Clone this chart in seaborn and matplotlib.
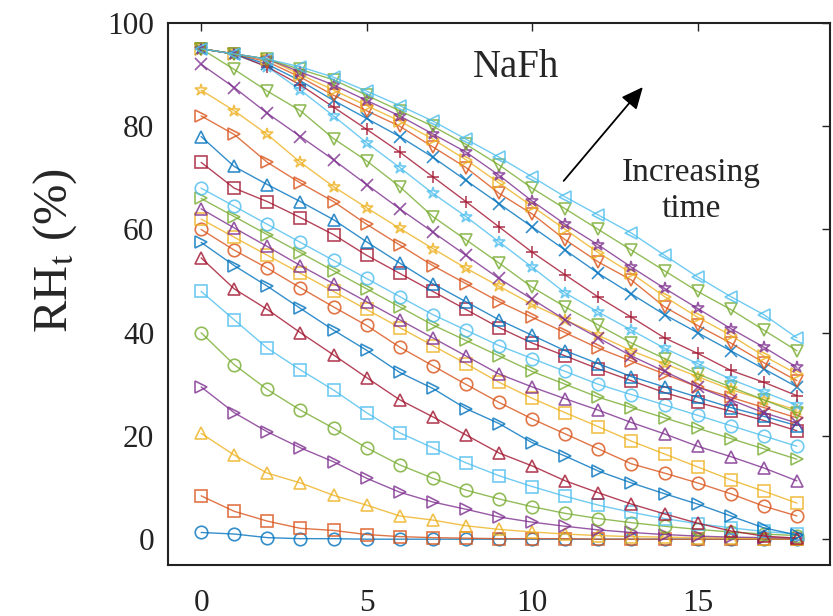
import numpy as np
import pandas as pd
import seaborn as sns
import matplotlib.pyplot as plt

# time index along the x axis
steps = list(range(19))

# RH_t (%) curves, earliest time first
rh_01 = [1.3, 1.0, 0.3, 0.1, 0.1, 0, 0, 0, 0, 0, 0, 0, 0, 0, 0, 0, 0, 0, 0]
rh_02 = [8.4, 5.4, 3.5, 2.1, 1.7, 0.9, 0.5, 0.3, 0.2, 0.1, 0.1, 0.1, 0, 0, 0, 0, 0, 0, 0]
rh_03 = [20.5, 16.3, 12.8, 10.9, 8.5, 6.6, 4.5, 3.7, 2.6, 1.9, 1.4, 1.0, 0.7, 0.5, 0.4, 0.3, 0.2, 0.1, 0.1]
rh_04 = [29.5, 24.5, 20.8, 17.7, 15.0, 11.8, 9.1, 7.2, 5.8, 4.3, 3.3, 2.5, 1.8, 1.3, 0.9, 0.6, 0.4, 0.3, 0.2]
rh_05 = [40.0, 33.8, 29.0, 25.0, 21.5, 17.7, 14.4, 11.8, 9.5, 7.8, 6.3, 5.0, 4.0, 3.2, 2.5, 1.9, 1.4, 1.0, 0.7]
rh_06 = [48.0, 42.5, 37.0, 32.8, 28.9, 24.5, 20.6, 17.7, 14.8, 12.3, 10.2, 8.3, 6.6, 5.2, 4.0, 3.0, 2.2, 1.5, 1.0]
rh_07 = [54.5, 48.5, 44.5, 40.0, 35.7, 31.3, 27.0, 23.7, 20.2, 16.7, 14.2, 11.3, 9.0, 6.8, 4.9, 3.1, 1.6, 0.6, 0.2]
rh_08 = [57.5, 53.0, 49.0, 44.7, 40.5, 36.6, 32.3, 29.2, 25.3, 22.4, 18.7, 16.1, 13.2, 10.9, 8.8, 6.8, 4.5, 2.2, 0.8]
rh_09 = [60.0, 56.0, 52.5, 48.7, 45.0, 41.4, 37.2, 33.6, 30.0, 26.5, 23.3, 20.4, 17.5, 14.6, 12.8, 10.9, 8.8, 6.4, 4.5]
rh_10 = [62.0, 58.5, 55.0, 51.5, 48.0, 44.5, 41.0, 37.5, 34.0, 30.4, 27.3, 24.5, 21.8, 19.0, 16.5, 14.0, 11.5, 9.3, 7.0]
rh_11 = [64.0, 60.3, 56.7, 53.0, 49.5, 46.0, 42.5, 39.0, 35.5, 32.0, 29.5, 27.2, 25.0, 22.6, 20.4, 18.0, 16.0, 13.8, 11.3]
rh_12 = [66.0, 62.5, 59.0, 55.5, 52.0, 48.5, 45.0, 41.5, 38.5, 35.5, 32.5, 30.0, 27.5, 25.5, 23.5, 21.5, 19.5, 17.5, 15.5]
rh_13 = [68.0, 64.5, 61.0, 57.5, 54.0, 50.5, 47.0, 43.5, 40.5, 37.5, 35.0, 32.5, 30.0, 28.0, 26.0, 24.0, 22.0, 20.0, 18.0]
rh_14 = [73.0, 68.0, 65.4, 62.3, 59.0, 55.0, 51.5, 48.0, 44.5, 41.0, 38.0, 35.5, 33.0, 30.7, 28.4, 26.5, 24.8, 23.0, 21.0]
rh_15 = [78.0, 72.2, 68.7, 65.4, 61.9, 57.6, 53.5, 49.5, 46.0, 42.5, 39.5, 36.5, 34.0, 31.5, 29.5, 27.5, 25.5, 23.8, 22.0]
rh_16 = [82.0, 78.4, 73.0, 69.0, 65.4, 61.0, 57.0, 53.0, 49.5, 46.0, 43.0, 40.0, 37.0, 34.5, 32.0, 29.5, 27.5, 25.5, 23.5]
rh_17 = [87.0, 83.0, 78.4, 73.0, 68.3, 64.2, 60.2, 56.3, 52.5, 49.0, 45.5, 42.5, 39.5, 36.5, 34.0, 31.5, 29.0, 27.0, 25.0]
rh_18 = [92.0, 87.5, 82.5, 78.0, 73.5, 68.7, 64.0, 59.5, 55.0, 50.5, 46.5, 42.5, 39.0, 35.5, 32.5, 29.5, 27.0, 24.5, 22.5]
rh_19 = [95.0, 91.0, 86.8, 83.0, 77.6, 73.3, 68.3, 62.5, 58.0, 53.5, 48.8, 45.0, 41.5, 38.0, 35.0, 32.0, 29.5, 27.0, 24.5]
rh_20 = [95.0, 94.0, 91.5, 87.0, 82.0, 76.8, 72.0, 67.0, 62.5, 57.6, 52.7, 47.7, 44.0, 40.5, 37.0, 34.0, 31.0, 28.5, 26.0]
rh_21 = [95.0, 94.0, 91.5, 88.0, 83.7, 79.4, 75.0, 70.2, 65.4, 60.5, 55.6, 51.2, 46.9, 43.0, 39.0, 36.0, 32.7, 30.4, 27.8]
rh_22 = [95.0, 94.0, 92.0, 88.8, 85.0, 81.5, 78.0, 74.0, 69.5, 65.0, 60.5, 56.0, 51.5, 47.5, 43.5, 40.0, 36.5, 33.0, 29.5]
rh_23 = [95.0, 94.0, 92.5, 89.5, 86.0, 83.0, 80.0, 76.0, 72.0, 67.0, 63.0, 58.0, 53.7, 50.2, 45.0, 41.4, 38.0, 34.2, 30.7]
rh_24 = [95.0, 94.0, 93.0, 90.0, 87.0, 84.0, 81.0, 77.5, 73.5, 69.0, 64.5, 60.0, 55.5, 51.5, 47.0, 43.0, 39.5, 35.5, 32.0]
rh_25 = [95.0, 94.0, 93.0, 90.5, 88.0, 85.0, 82.0, 78.5, 75.0, 70.5, 65.5, 61.0, 57.0, 52.7, 48.6, 44.7, 40.8, 37.2, 33.3]
rh_26 = [95.0, 94.0, 93.0, 91.0, 89.0, 86.0, 83.0, 80.0, 76.5, 72.5, 68.0, 64.0, 60.0, 56.0, 52.0, 48.0, 44.5, 40.5, 36.5]
rh_27 = [95.0, 94.0, 93.0, 91.5, 89.5, 86.8, 84.0, 81.0, 77.5, 74.0, 70.2, 66.3, 62.8, 59.3, 55.0, 50.8, 47.0, 43.5, 39.0]

curves = [rh_01, rh_02, rh_03, rh_04, rh_05, rh_06, rh_07, rh_08, rh_09,
          rh_10, rh_11, rh_12, rh_13, rh_14, rh_15, rh_16, rh_17, rh_18,
          rh_19, rh_20, rh_21, rh_22, rh_23, rh_24, rh_25, rh_26, rh_27]

# matlab default colour order + marker sequence
matlab_colors = ['#0072BD', '#D95319', '#EDB120', '#7E2F8E', '#77AC30', '#4DBEEE', '#A2142F']
marker_seq = ['o', 's', '^', '>'] * 4 + ['*', 'x', 'v', '*', '+', 'x', 'v', '>', '*', 'v', '<']

sns.set_theme(style='white')
plt.rcParams['font.family'] = ['Liberation Serif', 'DejaVu Serif']
plt.rcParams['mathtext.fontset'] = 'stix'

fig = plt.figure(figsize=(8.33, 6.16), dpi=100)
ax = fig.add_axes([0.2017, 0.0828, 0.7947, 0.8799])

for i, vals in enumerate(curves):
    c = matlab_colors[i % 7]
    df = pd.DataFrame({'step': steps, 'rh': vals})
    sns.lineplot(data=df, x='step', y='rh', ax=ax, color=c, marker=marker_seq[i],
                 markersize=9, markerfacecolor='none', markeredgecolor=c,
                 markeredgewidth=1.2, linewidth=1.0, alpha=0.8)

ax.set_xlim(-1, 19)
ax.set_ylim(-5, 100)
ax.set_xticks([0, 5, 10, 15])
ax.set_yticks([0, 20, 40, 60, 80, 100])
ax.set_xlabel('')
ax.set_ylabel('RH$_{\\rm t}$ (%)', fontsize=35)
ax.yaxis.set_label_coords(-0.135, 0.58)
ax.tick_params(direction='in', length=6, width=1, top=True, right=True,
               labelsize=22.5, colors='#222222')
ax.tick_params(axis='x', pad=17)
ax.tick_params(axis='y', pad=10)
for s in ax.spines.values():
    s.set_color('#222222')
    s.set_linewidth(1.5)

ax.text(9.5, 91.4, 'NaFh', fontsize=28, ha='center', va='center')
ax.annotate('', xy=(13.4, 88), xytext=(10.9, 69),
            arrowprops=dict(arrowstyle='-|>,head_length=1.1,head_width=0.5',
                            color='black', lw=1.3))
ax.text(14.8, 67.5, 'Increasing\ntime', fontsize=24, ha='center', va='center',
        linespacing=1.2)

fig.savefig('out.png', dpi=100)
